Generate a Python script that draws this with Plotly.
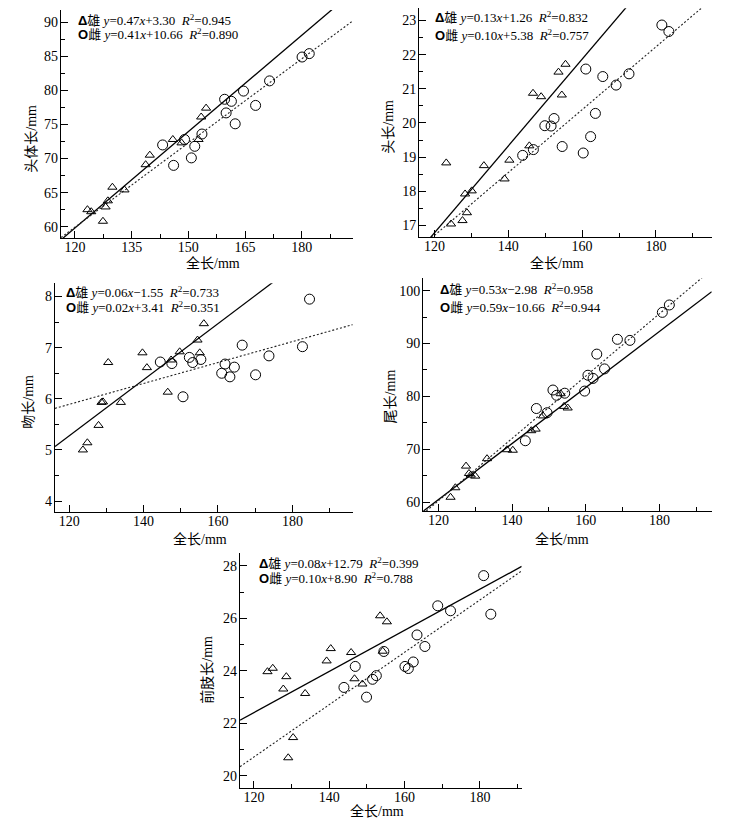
import numpy as np
import plotly.graph_objects as go

W, H = 741, 829

# ---------------- data ----------------
# Panel 1: 头体长
p1_mx = [123.3, 124.3, 127.4, 128.1, 128.7, 129.9, 133.1, 138.7, 139.8, 145.9, 148.2, 152.7, 153.4, 154.7]
p1_my = [62.5, 62.2, 60.8, 62.9, 63.8, 65.8, 65.4, 69.1, 70.5, 72.8, 72.3, 72.8, 76.1, 77.4]
p1_fx = [143.2, 146.1, 149.0, 150.8, 151.7, 153.6, 159.6, 160.0, 161.4, 162.4, 164.6, 167.8, 171.5, 180.1, 182.0]
p1_fy = [72.0, 69.0, 72.8, 70.1, 71.8, 73.6, 78.7, 76.7, 78.4, 75.1, 79.9, 77.8, 81.4, 84.9, 85.4]

# Panel 2: 头长
p2_mx = [123.2, 124.5, 127.6, 128.3, 128.8, 130.1, 133.4, 139.0, 140.3, 145.7, 146.7, 148.9, 153.6, 154.5, 155.5]
p2_my = [18.83, 17.04, 17.14, 17.92, 17.37, 18.01, 18.75, 18.36, 18.91, 19.33, 20.87, 20.77, 21.49, 20.82, 21.72]
p2_fx = [143.9, 146.8, 149.9, 151.6, 152.4, 154.6, 160.3, 161.0, 162.3, 163.6, 165.6, 169.2, 172.7, 181.6, 183.5]
p2_fy = [19.05, 19.22, 19.92, 19.91, 20.13, 19.31, 19.12, 21.58, 19.60, 20.28, 21.36, 21.11, 21.44, 22.87, 22.68]

# Panel 3: 吻长
p3_mx = [123.7, 124.9, 127.9, 128.7, 129.1, 130.5, 133.9, 139.7, 140.9, 146.5, 147.4, 149.7, 154.5, 155.1, 156.2]
p3_my = [5.00, 5.14, 5.48, 5.93, 5.94, 6.71, 5.93, 6.90, 6.61, 6.13, 6.76, 6.92, 7.15, 6.90, 7.47]
p3_fx = [144.5, 147.6, 150.6, 152.3, 153.2, 155.4, 161.0, 161.9, 163.2, 164.4, 166.5, 170.1, 173.7, 182.7, 184.6]
p3_fy = [6.72, 6.69, 6.04, 6.81, 6.71, 6.77, 6.50, 6.68, 6.43, 6.62, 7.05, 6.47, 6.84, 7.02, 7.95]

# Panel 4: 尾长
p4_mx = [123.3, 124.6, 127.5, 128.3, 128.8, 130.0, 133.2, 138.6, 140.2, 145.2, 146.4, 148.4, 153.2, 154.1, 155.1]
p4_my = [60.9, 62.7, 66.8, 65.4, 65.1, 64.9, 68.2, 69.9, 69.8, 73.5, 73.8, 76.3, 80.5, 78.1, 77.8]
p4_fx = [143.6, 146.6, 149.5, 151.1, 152.1, 154.3, 159.7, 160.6, 162.0, 163.0, 165.1, 168.6, 172.0, 180.8, 182.7]
p4_fy = [71.6, 77.7, 76.9, 81.2, 80.2, 80.6, 81.0, 84.0, 83.4, 88.0, 85.2, 90.8, 90.6, 95.9, 97.3]

# Panel 5: 前肢长
p5_mx = [123.6, 125.0, 127.8, 128.6, 129.1, 130.4, 133.6, 139.3, 140.4, 145.8, 146.7, 148.8, 153.5, 154.2, 155.3]
p5_my = [23.97, 24.10, 23.31, 23.78, 20.69, 21.46, 23.14, 24.38, 24.85, 24.70, 23.70, 23.50, 26.10, 24.75, 25.87]
p5_fx = [143.9, 146.9, 149.9, 151.5, 152.5, 154.5, 160.1, 161.0, 162.3, 163.3, 165.4, 168.8, 172.2, 181.0, 182.9]
p5_fy = [23.37, 24.17, 23.00, 23.68, 23.82, 24.74, 24.17, 24.09, 24.34, 25.37, 24.93, 26.48, 26.29, 27.63, 26.16]

y_titles = ["头体长/mm", "头长/mm", "吻长/mm", "尾长/mm", "前肢长/mm"]
x_title = "全长/mm"
male_label = "雄"
female_label = "雌"
eq_m = ["0.47<i>x</i>+3.30", "0.13<i>x</i>+1.26", "0.06<i>x</i>−1.55", "0.53<i>x</i>−2.98", "0.08<i>x</i>+12.79"]
eq_f = ["0.41<i>x</i>+10.66", "0.10<i>x</i>+5.38", "0.02<i>x</i>+3.41", "0.59<i>x</i>−10.66", "0.10<i>x</i>+8.90"]
r2_m = ["0.945", "0.832", "0.733", "0.958", "0.399"]
r2_f = ["0.890", "0.757", "0.351", "0.944", "0.788"]

# ---------------- layout geometry (pixels) ----------------
panels = [
    dict(mx=p1_mx, my=p1_my, fx=p1_fx, fy=p1_fy, box=(61, 352.7, 10, 238.3),
         xr=(116.3, 193.5), yr=(58.3, 91.8), xd=15, xm=7.5, yd=5, ym=2.5,
         leg=(76, 20, 34.3), ytp=(31.7, 139), xtp=(213, 263)),
    dict(mx=p2_mx, my=p2_my, fx=p2_fx, fy=p2_fy, box=(419.3, 711.7, 8.3, 237.3),
         xr=(115.9, 195.1), yr=(16.65, 23.36), xd=20, xm=10, yd=1, ym=0.5,
         leg=(433.3, 17.5, 35), ytp=(389, 126.7), xtp=(557, 263)),
    dict(mx=p3_mx, my=p3_my, fx=p3_fx, fy=p3_fy, box=(55, 352.7, 283.3, 512.3),
         xr=(116.2, 196.2), yr=(3.78, 8.26), xd=20, xm=10, yd=1, ym=0.5,
         leg=(64, 291.7, 307.5), ytp=(29, 401.7), xtp=(200, 539)),
    dict(mx=p4_mx, my=p4_my, fx=p4_fx, fy=p4_fy, box=(423.3, 711.7, 278.3, 511),
         xr=(115.9, 194.2), yr=(58.3, 102.35), xd=20, xm=10, yd=10, ym=5,
         leg=(438.3, 289, 306.7), ytp=(390.7, 396.7), xtp=(562, 539)),
    dict(mx=p5_mx, my=p5_my, fx=p5_fx, fy=p5_fy, box=(240, 521.7, 553.3, 787.7),
         xr=(116.3, 191.1), yr=(19.55, 28.48), xd=20, xm=10, yd=2, ym=1,
         leg=(256.7, 563.3, 578.3), ytp=(206.7, 670), xtp=(377, 811)),
]

SERIF = "Liberation Serif, Noto Sans CJK SC"

fig = go.Figure()
annotations = []
layout_axes = {}

for i, p in enumerate(panels, start=1):
    xa = "x" if i == 1 else f"x{i}"
    ya = "y" if i == 1 else f"y{i}"
    mx, my, fx, fy = (np.array(p[k]) for k in ("mx", "my", "fx", "fy"))

    # regression lines fitted from the points
    xs = np.array(p["xr"])
    km, bm = np.polyfit(mx, my, 1)
    kf, bf = np.polyfit(fx, fy, 1)
    fig.add_trace(go.Scatter(x=xs, y=km * xs + bm, mode="lines", xaxis=xa, yaxis=ya,
                             line=dict(color="black", width=1.3), showlegend=False, hoverinfo="skip"))
    fig.add_trace(go.Scatter(x=xs, y=kf * xs + bf, mode="lines", xaxis=xa, yaxis=ya,
                             line=dict(color="#222222", width=1.1, dash="2px,2px"), showlegend=False,
                             hoverinfo="skip"))
    fig.add_trace(go.Scatter(x=mx, y=my, mode="markers", xaxis=xa, yaxis=ya, showlegend=False,
                             marker=dict(symbol="triangle-up-open", size=8, color="black", line=dict(width=1))))
    fig.add_trace(go.Scatter(x=fx, y=fy, mode="markers", xaxis=xa, yaxis=ya, showlegend=False,
                             marker=dict(symbol="circle-open", size=10, color="black", line=dict(width=1))))

    x0, x1, y0, y1 = p["box"]
    common = dict(showline=True, linecolor="black", linewidth=1.3, mirror=False,
                  showgrid=False, zeroline=False, ticks="inside", ticklen=7, tickwidth=1.3,
                  tickcolor="black", tickfont=dict(family=SERIF, size=14, color="black"))
    layout_axes["xaxis" if i == 1 else f"xaxis{i}"] = dict(
        common, domain=[x0 / W, x1 / W], anchor=ya, range=list(p["xr"]),
        tick0=120, dtick=p["xd"], ticklabelstandoff=-4,
        minor=dict(ticks="inside", ticklen=4, tickwidth=1.2, tickcolor="black", dtick=p["xm"], tick0=120))
    layout_axes["yaxis" if i == 1 else f"yaxis{i}"] = dict(
        common, domain=[1 - y1 / H, 1 - y0 / H], anchor=xa, range=list(p["yr"]),
        tick0=0, dtick=p["yd"], ticklabelstandoff=-1,
        minor=dict(ticks="inside", ticklen=4, tickwidth=1.2, tickcolor="black", dtick=p["ym"], tick0=0))

    lx, ly1, ly2 = p["leg"]
    t1 = (f"<span style='font-family:Liberation Sans'><b>Δ</b></span>{male_label} <i>y</i>={eq_m[i-1]}"
          f"\u00a0\u00a0<i>R</i><sup>2</sup>={r2_m[i-1]}")
    t2 = (f"<span style='font-family:Liberation Sans'><b>O</b></span>{female_label} <i>y</i>={eq_f[i-1]}"
          f"\u00a0\u00a0<i>R</i><sup>2</sup>={r2_f[i-1]}")
    for t, ly in ((t1, ly1), (t2, ly2)):
        annotations.append(dict(text=t, xref="paper", yref="paper", x=lx / W, y=1 - ly / H,
                                xanchor="left", yanchor="middle", showarrow=False,
                                font=dict(family=SERIF, size=13, color="black")))
    tx, ty = p["ytp"]
    annotations.append(dict(text=y_titles[i - 1], xref="paper", yref="paper", x=tx / W, y=1 - ty / H,
                            xanchor="center", yanchor="middle", textangle=-90, showarrow=False,
                            font=dict(family=SERIF, size=14, color="black")))
    tx, ty = p["xtp"]
    annotations.append(dict(text=x_title, xref="paper", yref="paper", x=tx / W, y=1 - ty / H,
                            xanchor="center", yanchor="middle", showarrow=False,
                            font=dict(family=SERIF, size=14, color="black")))

fig.update_layout(width=W, height=H, margin=dict(l=0, r=0, t=0, b=0),
                  paper_bgcolor="white", plot_bgcolor="white",
                  annotations=annotations, **layout_axes)

fig.write_html("out.html", config={"displayModeBar": False},
               post_script="document.body.style.margin='0px';")
